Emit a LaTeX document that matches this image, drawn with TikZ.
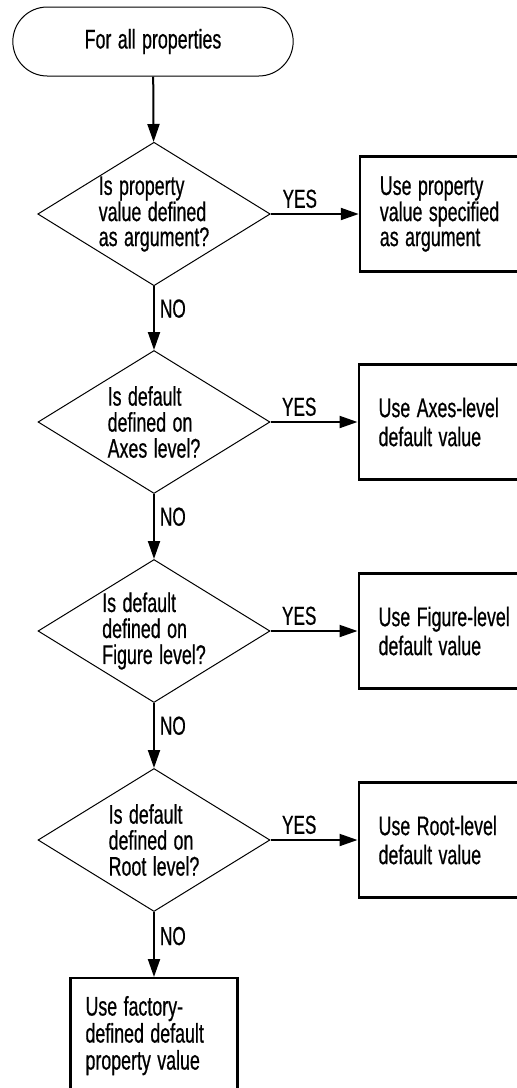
\documentclass[tikz,border=0pt]{standalone}
\usepackage{fontspec}
\setmainfont[FakeStretch=0.66, WordSpace=1.3, FakeBold=0.6]{Liberation Sans}
\usetikzlibrary{arrows.meta,positioning,shapes.geometric,shapes.misc}
\tikzset{
  flow/.style={-{Triangle[length=18pt,width=12pt]}, line width=2pt},
  terminal/.style={rounded rectangle, draw, line width=1pt, minimum width=287pt, minimum height=69pt},
  decision/.style={diamond, draw, line width=1pt, aspect=1.62, inner sep=0pt, minimum width=232pt, minimum height=143pt, align=left},
  action/.style={rectangle, draw, line width=2.2pt, inner xsep=20pt, text width=150pt, minimum height=115pt, align=flush left, font=\fontsize{27}{29}\selectfont},
  branch label/.style={font=\fontsize{26}{26}\selectfont, inner sep=5pt},
}

\begin{document}
\begin{tikzpicture}[x=1pt, y=-1pt, font=\fontsize{27}{26}\selectfont]
  \useasboundingbox (0,0) rectangle (517,1088);

  % Start
  \node[terminal] (all) at (153,41.5) {For all properties};

  % Decisions
  \node[decision, font=\fontsize{27}{25}\selectfont] (argdef) at (154,214) {Is property\\value defined\\as argument?};
  \node[decision] (axesdef) at (154,422) {Is default\\defined on\\Axes level?};
  \node[decision] (figdef) at (154,631) {Is default\\defined on\\Figure level?};
  \node[decision] (rootdef) at (154,840) {Is default\\defined on\\Root level?};

  % Results
  \node[action, right=88pt of argdef, font=\fontsize{27}{25}\selectfont] (argval) {Use property\\value specified\\as argument};
  \node[action, right=87pt of axesdef] (axesval) {Use Axes-level\\default value};
  \node[action, right=87pt of figdef] (figval) {Use Figure-level\\default value};
  \node[action, right=87pt of rootdef] (rootval) {Use Root-level\\default value};
  \node[action, below=65pt of rootdef, inner xsep=15pt, text width=137pt, font=\fontsize{27}{27}\selectfont] (factval) {Use factory-\\defined default\\property value};

  % Arrows
  \draw[flow] (all) -- (argdef);
  \draw[flow] (argdef) -- node[branch label, right, pos=0.35] {NO} (axesdef);
  \draw[flow] (axesdef) -- node[branch label, right, pos=0.35] {NO} (figdef);
  \draw[flow] (figdef) -- node[branch label, right, pos=0.35] {NO} (rootdef);
  \draw[flow] (rootdef) -- node[branch label, right, pos=0.37] {NO} (factval);
  \draw[flow] (argdef.east) -- node[branch label, above, pos=0.33] {YES} (argval);
  \draw[flow] (axesdef.east) -- node[branch label, above, pos=0.33] {YES} (axesval);
  \draw[flow] (figdef.east) -- node[branch label, above, pos=0.33] {YES} (figval);
  \draw[flow] (rootdef.east) -- node[branch label, above, pos=0.33] {YES} (rootval);
\end{tikzpicture}
\end{document}
